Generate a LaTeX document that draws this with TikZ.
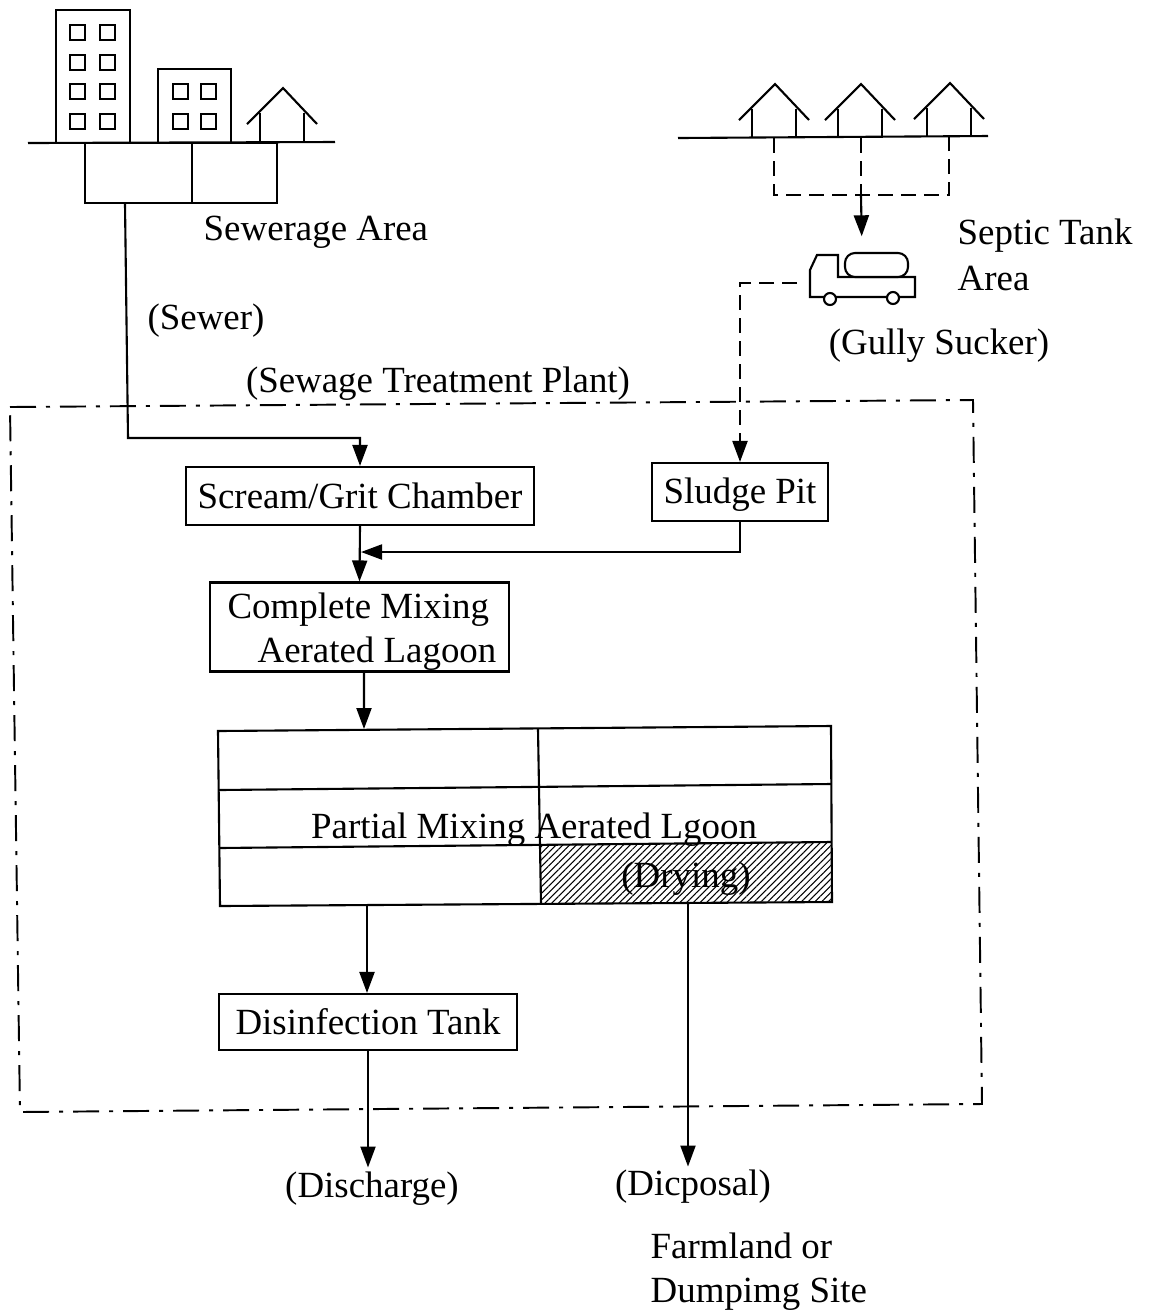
\documentclass[tikz,border=0pt]{standalone}
\usepackage{fontspec}
\usepackage{xcolor}
\usepackage{tikz}
\usetikzlibrary{arrows.meta, positioning, calc, patterns.meta}
\setmainfont{Liberation Serif}
\tikzset{
  plantbox/.style={draw, line width=0.6pt, inner sep=0pt, align=left},
  tag/.style={inner sep=0pt, align=left},
  pipe/.style={line width=0.6pt},
  truckline/.style={line width=0.6pt, dash pattern=on 1.5mm off 0.8mm},
  plantline/.style={line width=0.55pt, dash pattern=on 2.6mm off 1mm on 0.4mm off 1mm}
}

\begin{document}
\begin{tikzpicture}[x=0.1mm, y=-0.1mm, >={Stealth[length=2.1mm,width=1.5mm,inset=0pt]},
    font=\fontsize{10.5}{12.6}\selectfont]
  \useasboundingbox (0,0) rectangle (1150,1314);
  % Buildings
  \draw[pipe] (28,143) -- (335,142);
  \draw[pipe] (56,10) rectangle (130,143);
  \draw[pipe] (158,69) rectangle (231,143);
  \foreach \wx in {70, 100} {
    \foreach \wy in {25, 55, 84, 114} {
      \draw[pipe] (\wx,\wy) rectangle ++(15,15);
    }
  }
  \foreach \wx in {173, 201} {
    \foreach \wy in {84, 114} {
      \draw[pipe] (\wx,\wy) rectangle ++(15,15);
    }
  }
  % Houses
  \foreach \hx/\hy in {283/88, 775/84, 861/84, 950/83} {
    \draw[pipe] (\hx-36,\hy+36) -- (\hx,\hy) -- (\hx+34,\hy+36);
    \draw[pipe] (\hx-23,\hy+25) -- (\hx-23,\hy+54);
    \draw[pipe] (\hx+21,\hy+25) -- (\hx+21,\hy+54);
  }
  \draw[pipe] (678,138) -- (988,136);
  % Sewerage tank
  \node[plantbox, minimum width=19.2mm, minimum height=6mm] (sewertank) at (181,173) {};
  \draw[pipe] (192,143) -- (192,203);
  % Septic tanks
  \coordinate (septicleft) at (774,138);
  \coordinate (septicmid) at (861,138);
  \coordinate (septicright) at (949,137);
  \coordinate (septicjoin) at (861,195);
  \draw[truckline] (septicleft) -- (774,195) -- (949,195) -- (septicright);
  \draw[truckline] (septicmid) -- (septicjoin);
  % Truck
  \node[minimum width=10.6mm, minimum height=5.2mm, inner sep=0pt] (truck) at (862,279) {};
  \coordinate (truckout) at (797,283);
  \draw[pipe] (830,297) -- (810,297) -- (810,270) -- (817,255) -- (838,255) -- (838,277)
    -- (915,277) -- (915,297) -- (893,297) (887,297) -- (836,297);
  \draw[pipe, rounded corners=1mm, fill=white] (845,253) rectangle (908,277);
  \draw[pipe, fill=white] (830,299) circle (6);
  \draw[pipe, fill=white] (893,298) circle (6);
  \draw[pipe, ->, shorten >=1.6mm] (septicjoin) -- (truck.north);
  % Labels
  \node[tag, anchor=west] (sewerage) at (203,232) {Sewerage Area};
  \node[tag, anchor=west] (septic) at (957,255) {Septic Tank\\[0.2mm]Area};
  \node[tag] (sewer) at (206,321) {(Sewer)};
  \node[tag] (gully) at (939,346) {(Gully Sucker)};
  \node[tag] (plant) at (438,384) {(Sewage Treatment Plant)};
  % Plant boundary
  \draw[plantline] (10,407) -- (973,400) -- (982,1104) -- (20,1112) -- cycle;
  % Boxes
  \node[plantbox, minimum width=34.8mm, minimum height=5.8mm] (scream) at (360,496) {Scream/Grit Chamber};
  \node[plantbox, minimum width=17.6mm, minimum height=5.8mm, text depth=0.5pt] (sludge) at (740,492) {Sludge Pit};
  \node[plantbox, minimum width=29.9mm, minimum height=8.9mm] (mixing) at (359.5,627) {\rule{0pt}{10pt}\hspace{0.5mm}Complete Mixing\\\hspace{3.5mm}Aerated Lagoon};
  \node[plantbox, minimum width=29.8mm, minimum height=5.6mm] (disinfect) at (368,1022) {Disinfection Tank};
  % Partial mixing lagoon
  \coordinate (lagoonin) at (364,729);
  \coordinate (lagoonout) at (367,906);
  \coordinate (dryingout) at (688,902);
  \fill[pattern={Lines[angle=45, distance=1.35pt, line width=0.3pt]}] (540,845) -- (831,842) -- (832,901) -- (541,904) -- cycle;
  \draw[pipe] (218,731) -- (831,726) -- (832,902) -- (220,906) -- cycle;
  \draw[pipe] (219,790) -- (831,784);
  \draw[pipe] (219,848) -- (831,842);
  \draw[pipe] (538,729) -- (541,904);
  \node[tag] (partial) at (534,830) {Partial Mixing Aerated Lgoon};
  \node[tag] (drying) at (686,879) {(Drying)};
  % Outlets
  \node[tag] (discharge) at (372,1189) {(Discharge)};
  \node[tag] (disposal) at (693,1187) {(Dicposal)};
  \node[tag, anchor=west] (farmland) at (650,1272) {Farmland or\\Dumpimg Site};
  % Connectors
  \coordinate (sewerbend) at (128,438);
  \coordinate (sludgejoin) at (361,552);
  \draw[pipe, ->] ([xshift=-5.6mm]sewertank.south) -- (sewerbend) -- (sewerbend -| scream.north) -- (scream.north);
  \draw[truckline, ->] (truckout) -| (sludge.north);
  \draw[pipe, ->] (sludge.south) |- (sludgejoin);
  \draw[pipe, ->] (scream.south) -- (mixing.north);
  \draw[pipe, ->] ([xshift=0.45mm]mixing.south) -- (lagoonin);
  \draw[pipe, ->] (lagoonout) -- (lagoonout |- disinfect.north);
  \draw[pipe, ->, shorten >=0.4mm] (disinfect.south) -- (disinfect.south |- discharge.north);
  \draw[pipe, ->, shorten >=0.3mm] (dryingout) -- (disposal.north -| dryingout);
\end{tikzpicture}
\end{document}
